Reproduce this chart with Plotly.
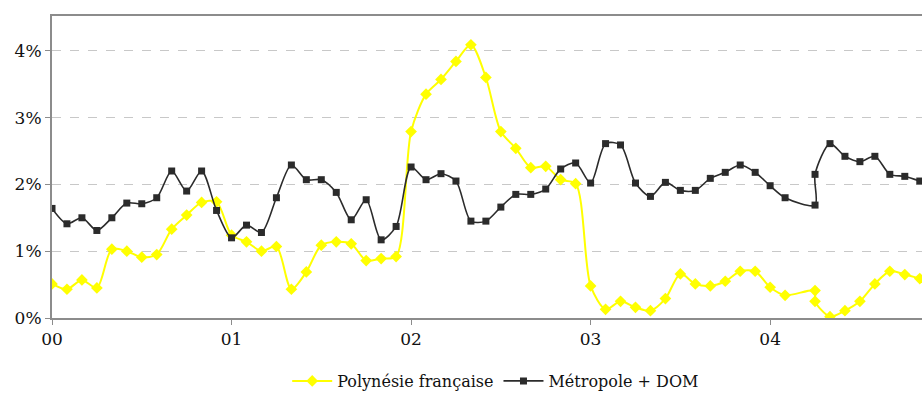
import plotly.graph_objects as go

# month index since Jan 2000 (two readings share the same position in mid-2004)
months = list(range(0, 50)) + [51, 51, 52, 53, 54, 55, 56, 57, 58]

polynesie = [0.51, 0.43, 0.57, 0.45, 1.03, 1.00, 0.91, 0.95, 1.33, 1.54, 1.73, 1.74,
             1.24, 1.14, 1.00, 1.07, 0.43, 0.69, 1.09, 1.14, 1.11, 0.86, 0.89, 0.92,
             2.79, 3.35, 3.57, 3.84, 4.09, 3.60, 2.79, 2.54, 2.25, 2.27, 2.07, 2.01,
             0.48, 0.13, 0.25, 0.16, 0.11, 0.29, 0.66, 0.51, 0.48, 0.55, 0.70, 0.70,
             0.46, 0.34, 0.41, 0.25, 0.02, 0.11, 0.25, 0.51, 0.70, 0.65, 0.59]

metropole = [1.64, 1.41, 1.50, 1.31, 1.50, 1.72, 1.71, 1.80, 2.20, 1.90, 2.20, 1.61,
             1.20, 1.39, 1.28, 1.80, 2.29, 2.07, 2.07, 1.88, 1.47, 1.77, 1.17, 1.37,
             2.26, 2.07, 2.16, 2.05, 1.45, 1.45, 1.66, 1.85, 1.85, 1.93, 2.23, 2.32,
             2.02, 2.61, 2.59, 2.02, 1.82, 2.03, 1.91, 1.91, 2.09, 2.18, 2.29, 2.18,
             1.98, 1.80, 1.69, 2.15, 2.61, 2.42, 2.34, 2.42, 2.15, 2.12, 2.05]

year_ticks = [0, 12, 24, 36, 48]
year_labels = ["00", "01", "02", "03", "04"]
pct_ticks = [0, 1, 2, 3, 4]
pct_labels = ["0%", "1%", "2%", "3%", "4%"]

font = "DejaVu Serif"

fig = go.Figure()
fig.add_trace(go.Scatter(
    x=months, y=polynesie, name="Polynésie française", mode="lines+markers",
    line=dict(color="#FFFF00", width=2, shape="spline", smoothing=0.8),
    marker=dict(symbol="diamond", size=9, color="#FFFF00"),
))
fig.add_trace(go.Scatter(
    x=months, y=metropole, name="Métropole + DOM", mode="lines+markers",
    line=dict(color="#2b2b2b", width=1.6, shape="spline", smoothing=0.8),
    marker=dict(symbol="square", size=7, color="#2b2b2b"),
))

fig.update_layout(
    template="none",
    width=922, height=398,
    margin=dict(l=52, r=0, t=16, b=74),
    paper_bgcolor="white", plot_bgcolor="white",
    font=dict(family=font, size=17, color="#111111"),
    showlegend=True,
    legend=dict(orientation="h", x=0.51, xanchor="center", y=-0.21, yanchor="middle",
                font=dict(family=font, size=16), itemwidth=40, tracegroupgap=0,
                bgcolor="rgba(0,0,0,0)"),
    xaxis=dict(range=[0, 58.15], tickmode="array", tickvals=year_ticks, ticktext=year_labels,
               showgrid=False, zeroline=False, showline=True, linecolor="#8c8c8c", linewidth=2,
               mirror=True, ticks="outside", ticklen=5, tickcolor="#8c8c8c", tickwidth=1,
               tickfont=dict(family=font, size=17)),
    yaxis=dict(range=[0, 4.52], tickmode="array", tickvals=pct_ticks, ticktext=pct_labels,
               showgrid=True, gridcolor="#c8c8c8", griddash="dash", gridwidth=1,
               zeroline=False, showline=True, linecolor="#8c8c8c", linewidth=2,
               ticks="outside", ticklen=5, tickcolor="#8c8c8c", tickwidth=1,
               tickfont=dict(family=font, size=17)),
)

fig.write_html("out.html")
